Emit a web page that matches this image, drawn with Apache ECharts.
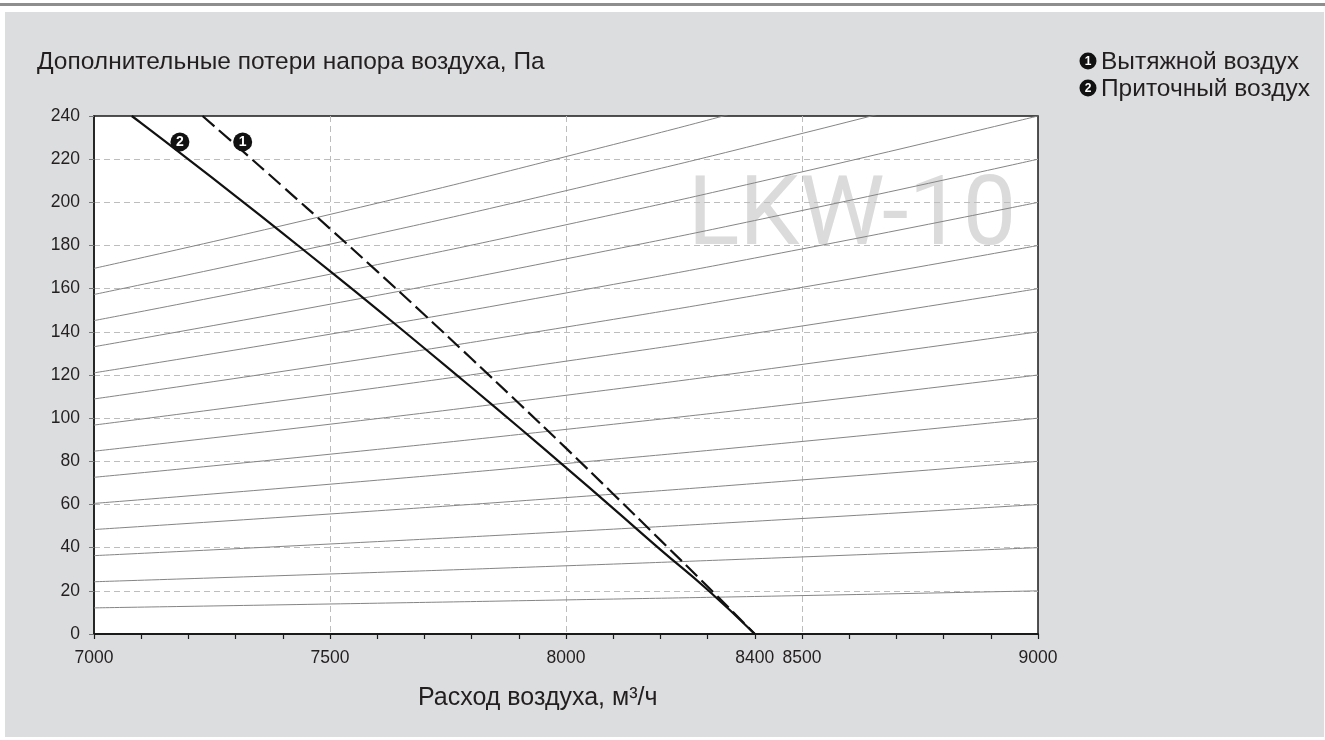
<!DOCTYPE html>
<html>
<head>
<meta charset="utf-8">
<script src="https://cdn.jsdelivr.net/npm/echarts@6/dist/echarts.min.js"></script>
<style>
  html, body { margin: 0; padding: 0; background: #ffffff; }
  #topline { position: absolute; left: 0; top: 3px; width: 1325px; height: 3px; background: #8e8e8e; }
  #panel { position: absolute; left: 5px; top: 12px; width: 1319px; height: 725px; background: #dcdddf; }
  #chart { position: absolute; left: 0; top: 0; width: 1325px; height: 740px; }
</style>
</head>
<body>
<div id="topline"></div>
<div id="panel"></div>
<div id="chart"></div>
<script>
// ---- data ----
const titleText = 'Дополнительные потери напора воздуха, Па';
const xAxisTitle = 'Расход воздуха, м³/ч';
const legendNames = ['Вытяжной воздух', 'Приточный воздух'];
const watermark = 'LKW-10';

const xLabelValues = [7000, 7500, 8000, 8400, 8500, 9000];

// system (resistance) curves, pressure read at these flows
const sysQ = [7000, 7500, 8000, 8500, 9000];
const systemCurves = [
  [12.1, 13.9, 15.8, 17.8, 20],
  [24.2, 27.8, 31.6, 35.7, 40],
  [36.3, 41.7, 47.4, 53.5, 60],
  [48.4, 55.6, 63.2, 71.4, 80],
  [60.5, 69.4, 79.0, 89.2, 100],
  [72.6, 83.3, 94.8, 107.0, 120],
  [84.7, 97.2, 110.6, 124.9, 140],
  [96.8, 111.1, 126.4, 142.7, 160],
  [108.9, 125.0, 142.2, 160.6, 180],
  [121.0, 138.9, 158.0, 178.4, 200],
  [133.1, 152.8, 173.8, 196.2, 220],
  [145.2, 166.7, 189.6, 214.1, 240],
  [157.3, 180.6, 205.4, 231.9, 260],
  [169.4, 194.4, 221.2, 249.8, 280]
];

// curve 1: exhaust air (dashed)
const exhaustQ = [7230, 7300, 7400, 7500, 7600, 7700, 7800, 7900, 8000, 8100, 8200, 8300, 8400];
const exhaustP = [240, 226.6, 207.3, 187.8, 168.0, 147.9, 127.5, 106.9, 86.1, 64.9, 43.5, 22.0, 0];

// curve 2: supply air (solid)
const supplyQ = [7080, 7100, 7200, 7300, 7400, 7500, 7600, 7700, 7800, 7900, 8000, 8100, 8200, 8300, 8400];
const supplyP = [240, 236.7, 219.9, 202.9, 185.6, 168.1, 150.4, 132.4, 114.2, 95.8, 77.1, 58.2, 39.1, 20.5, 0];

// numbered markers on the curves [flow, pressure, label]
const curveMarkers = [[7182, 228, '2'], [7315, 228, '1']];

// ---- chart ----
const FONT = '"Liberation Sans", Arial, Helvetica, sans-serif';
const zip = (xs, ys) => xs.map((x, i) => [x, ys[i]]);

const series = [];
systemCurves.forEach((vals, i) => {
  series.push({
    type: 'line', name: 'sys' + (i + 1), data: zip(sysQ, vals),
    smooth: true, showSymbol: false, silent: true, z: 4, xAxisIndex: 0,
    lineStyle: { color: '#858585', width: 1 }
  });
});
series.push({
  type: 'line', name: legendNames[1], data: zip(supplyQ, supplyP),
  smooth: true, showSymbol: false, z: 5, xAxisIndex: 0,
  lineStyle: { color: '#111111', width: 2.2 }
});
series.push({
  type: 'line', name: legendNames[0], data: zip(exhaustQ, exhaustP),
  smooth: true, showSymbol: false, z: 5, xAxisIndex: 0,
  lineStyle: { color: '#111111', width: 2.2, type: [16, 6] }
});
series.push({
  type: 'scatter', data: curveMarkers, z: 6, xAxisIndex: 0,
  symbol: 'circle', symbolSize: 19,
  itemStyle: { color: '#111111', opacity: 1 },
  label: { show: true, position: 'inside', formatter: p => p.data[2],
           color: '#fff', fontWeight: 'bold', fontSize: 14, fontFamily: FONT }
});

function legendItem(y, num, text) {
  return [
    { type: 'circle', z: 10, shape: { cx: 1088, cy: y, r: 8.5 }, style: { fill: '#111111' } },
    { type: 'text', z: 11, style: { x: 1088, y: y + 0.5, text: num, fill: '#fff',
      font: 'bold 12px ' + FONT, textAlign: 'center', textVerticalAlign: 'middle' } },
    { type: 'text', z: 10, style: { x: 1101, y: y + 1, text: text, fill: '#231f20',
      font: '24.5px ' + FONT, textAlign: 'left', textVerticalAlign: 'middle' } }
  ];
}

const option = {
  animation: false,
  backgroundColor: 'transparent',
  textStyle: { fontFamily: FONT },
  grid: { left: 94, top: 116, width: 944, height: 518, show: true,
          backgroundColor: '#ffffff', borderColor: '#1a1a1a', borderWidth: 1.5, z: 0 },
  xAxis: [
    {
      type: 'value', min: 7000, max: 9000, interval: 100, z: 3,
      axisLine: { show: true, onZero: false, lineStyle: { color: '#1a1a1a', width: 2 } },
      axisTick: { show: true, length: 5, lineStyle: { color: '#1a1a1a', width: 1.2 } },
      axisLabel: { show: true, margin: 15, fontSize: 17.5, color: '#231f20',
                   formatter: v => (xLabelValues.indexOf(v) >= 0 ? String(v) : '') },
      splitLine: { show: false }
    },
    {
      type: 'value', min: 7000, max: 9000, interval: 500, z: 3, position: 'bottom',
      axisLine: { show: false }, axisTick: { show: false }, axisLabel: { show: false },
      splitLine: { show: true, showMinLine: false, showMaxLine: false,
                   lineStyle: { color: '#bdbdbd', width: 1, type: [6, 4] } }
    }
  ],
  yAxis: {
    type: 'value', min: 0, max: 240, interval: 20, z: 3,
    axisLine: { show: true, lineStyle: { color: '#1a1a1a', width: 1.5 } },
    axisTick: { show: true, length: 5, lineStyle: { color: '#777', width: 1 } },
    axisLabel: { margin: 14, fontSize: 17.5, color: '#231f20' },
    splitLine: { show: true, showMinLine: false, showMaxLine: false,
                 lineStyle: { color: '#bdbdbd', width: 1, type: [6, 4] } }
  },
  graphic: [
    { type: 'text', z: 1, style: { x: 852, y: 220, text: watermark, fill: '#dbdbdb',
      font: '400 96px Roboto, ' + FONT, textAlign: 'center', textVerticalAlign: 'middle' } },
    { type: 'text', z: 10, style: { x: 37, y: 62, text: titleText, fill: '#231f20',
      font: '24.5px ' + FONT, textAlign: 'left', textVerticalAlign: 'middle' } },
    { type: 'text', z: 10, style: { x: 418, y: 698, text: xAxisTitle, fill: '#231f20',
      font: '25px ' + FONT, textAlign: 'left', textVerticalAlign: 'middle' } }
  ].concat(legendItem(61, '1', legendNames[0]), legendItem(88, '2', legendNames[1])),
  series: series
};

const chart = echarts.init(document.getElementById('chart'), null, { renderer: 'canvas' });
chart.setOption(option);
</script>
</body>
</html>
